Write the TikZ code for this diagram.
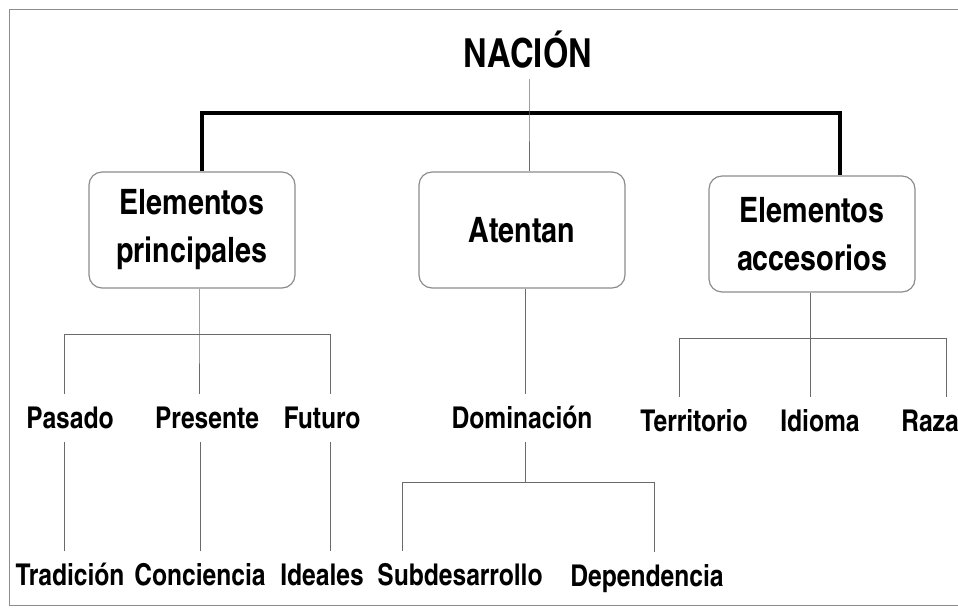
\documentclass[tikz,border=0pt]{standalone}
\usepackage{fontspec}
\setmainfont{texgyreheroscn}[Extension=.otf,UprightFont=*-bold,BoldFont=*-bold]
\usepackage{tikz}
\definecolor{framegray}{HTML}{8C8C8C}
\definecolor{linkgray}{HTML}{6A6A6A}
\tikzset{
  head/.style={font=\fontsize{20}{24}\selectfont,inner sep=5pt},
  group box/.style={draw=framegray,line width=0.6pt,rounded corners=6.5pt,
    minimum width=103pt,minimum height=58pt,align=center,
    font=\fontsize{17.5}{24}\selectfont},
  leaf/.style={font=\fontsize{15}{17}\selectfont,text height=10.8pt,
    text depth=0pt,inner xsep=1pt,inner ysep=6.5pt},
  thick link/.style={draw=black,line width=1.6pt},
  link/.style={draw=linkgray,line width=0.5pt}
}

\begin{document}
\begin{tikzpicture}[x=0.5pt,y=-0.5pt]
  \useasboundingbox (0,0) rectangle (958,607);
  \draw[framegray,line width=0.5pt] (958,9) -- (9,9) -- (9,605) -- (958,605);

  \node[head] (nacion) at (528,50) {NACIÓN};
  \node[group box] (principales) at (192,230) {Elementos\\principales};
  \node[group box] (atentan) at (522,230) {Atentan};
  \node[group box] (accesorios) at (812,234) {Elementos\\accesorios};

  \foreach \name/\x/\y/\txt in {pasado/70/418/Pasado, presente/207/418/Presente,
      futuro/322/418/Futuro, dominacion/522/418/Dominación,
      territorio/694/421/Territorio, idioma/820/421/Idioma, raza/930/421/Raza,
      tradicion/70/575/Tradición, conciencia/200/575/Conciencia,
      ideales/322/575/Ideales, subdesarrollo/460/575/Subdesarrollo,
      dependencia/647/576/Dependencia}
    \node[leaf] (\name) at (\x,\y) {\txt};

  % top level
  \coordinate (top) at (529,113);
  \coordinate (tl) at (202,113);
  \coordinate (tr) at (840,113);
  \draw[thick link] (principales.north -| tl) -- (tl) -- (tr) -- (accesorios.north -| tr);
  \draw[link] (nacion.south -| top) -- (top) -- (atentan.north -| top);

  % elementos principales
  \coordinate (p) at (199,334);
  \coordinate (pl) at (64,334);
  \coordinate (pr) at (330,334);
  \draw[link] (principales.south -| p) -- (p) -- (presente.north -| p);
  \draw[link] (pasado.north -| pl) -- (pl) -- (pr) -- (futuro.north -| pr);
  \draw[link] (pasado.south -| pl) -- (tradicion.north -| pl);
  \draw[link] (presente.south -| conciencia) -- (conciencia);
  \draw[link] (futuro.south -| pr) -- (ideales.north -| pr);

  % atentan
  \coordinate (d) at (525,482);
  \coordinate (dl) at (402,482);
  \coordinate (dr) at (654,482);
  \draw[link] (atentan.south -| d) -- (dominacion.north -| d);
  \draw[link] (dominacion.south -| d) -- (d);
  \draw[link] (subdesarrollo.north -| dl) -- (dl) -- (dr) -- (dependencia.north -| dr);

  % elementos accesorios
  \coordinate (a) at (810,338);
  \coordinate (al) at (679,338);
  \coordinate (ar) at (946,338);
  \draw[link] (accesorios.south -| a) -- (a) -- (idioma.north -| a);
  \draw[link] (territorio.north -| al) -- (al) -- (ar) -- (raza.north -| ar);
\end{tikzpicture}
\end{document}
